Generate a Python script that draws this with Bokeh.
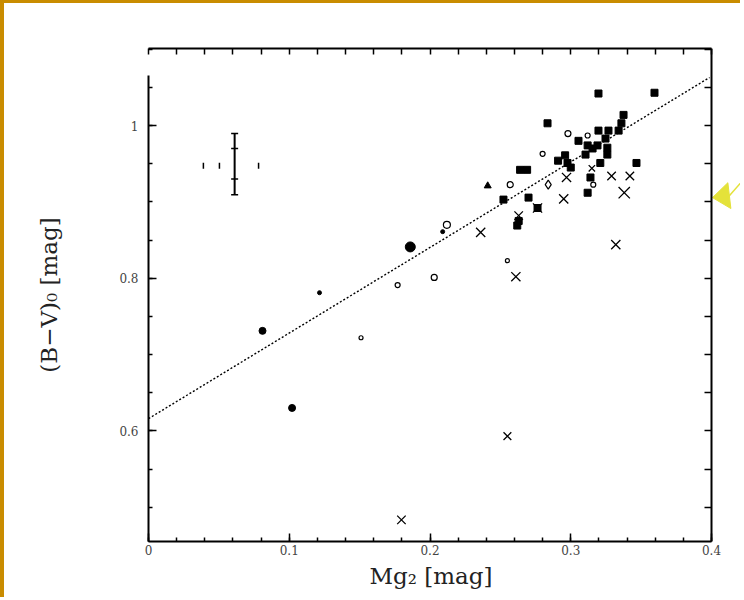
import math
from bokeh.plotting import figure
from bokeh.models import LinearAxis, FixedTicker, Range1d
from bokeh.embed import file_html
from bokeh.resources import INLINE

# ---------------- data ----------------
# filled squares
sq_x = [0.3197, 0.3595, 0.2835, 0.3375, 0.336, 0.3197, 0.3268, 0.334, 0.3247, 0.326,
        0.326, 0.321, 0.3467, 0.3055, 0.312, 0.3155, 0.3105, 0.319, 0.296, 0.2977,
        0.312, 0.2522, 0.270, 0.2764, 0.263, 0.262, 0.314, 0.264, 0.269, 0.291, 0.300]
sq_y = [1.042, 1.043, 1.003, 1.014, 1.003, 0.9934, 0.9934, 0.9934, 0.983, 0.971,
        0.962, 0.951, 0.951, 0.980, 0.974, 0.970, 0.962, 0.974, 0.961, 0.951,
        0.912, 0.903, 0.9056, 0.892, 0.875, 0.869, 0.932, 0.942, 0.942, 0.954, 0.945]
# filled round points (x, y, size)
fc_x = [0.186, 0.081, 0.1215, 0.102, 0.209]
fc_y = [0.841, 0.731, 0.781, 0.630, 0.861]
fc_s = [10, 7, 4, 7, 4]
# filled triangle
tri_x = [0.241]
tri_y = [0.921]
# open circles
oc_x = [0.177, 0.203, 0.212, 0.151, 0.257, 0.255, 0.280, 0.298, 0.312, 0.316]
oc_y = [0.791, 0.801, 0.870, 0.722, 0.9226, 0.823, 0.963, 0.9895, 0.987, 0.9226]
oc_s = [5, 6, 7, 4, 6, 4, 5, 6, 5, 5]
# open diamonds
od_x = [0.284]
od_y = [0.9226]
# crosses (x, y, size)
cx_x = [0.1797, 0.255, 0.261, 0.332, 0.236, 0.263, 0.2764, 0.295, 0.297, 0.315, 0.329, 0.342, 0.338]
cx_y = [0.4833, 0.593, 0.802, 0.844, 0.860, 0.882, 0.892, 0.904, 0.932, 0.944, 0.934, 0.934, 0.912]
cx_s = [12, 11, 13, 13, 13, 12, 13, 13, 13, 9, 12, 12, 16]
# fitted relation (end points)
fit_x = [0.0, 0.3986]
fit_y = [0.616, 1.063]
# typical error bar
eb_x = 0.0612
eb_lo, eb_hi = 0.9095, 0.9895
eb_in = [0.930, 0.970]
eb_mid = 0.9475
eh_x = [0.039, 0.0504, 0.0782]
# arrow annotation (start -> tip)
arr_start = (0.4234, 0.9305)
arr_end = (0.4007, 0.9056)

# ticks and titles
x_major = [0.0, 0.1, 0.2, 0.3, 0.4]
x_labels = ["0", "0.1", "0.2", "0.3", "0.4"]
x_minor = [round(0.02 * i, 2) for i in range(0, 21)]
y_major = [0.6, 0.8, 1.0]
y_labels = ["0.6", "0.8", "1"]
y_minor = [round(0.05 * i, 2) for i in range(10, 23)]
x_title = "Mg\u2082 [mag]"
y_title = "(B\u2212V)\u2080 [mag]"

SERIF = "DejaVu Serif"
YELLOW = "#e4e23a"

# box drawn by the axes (data units) and page geometry
BOX_X0, BOX_X1 = 0.0, 0.4
BOX_Y0, BOX_Y1 = 0.455, 1.101
W, H = 740, 597
BL, BT, BB = 144, 45, 59
BOX_W_PX = 563
sx = BOX_W_PX / (BOX_X1 - BOX_X0)   # pixels per x unit
sy = (H - BT - BB) / (BOX_Y1 - BOX_Y0)   # pixels per y unit
X0, X1 = BOX_X0, BOX_X0 + (W - BL) / sx

p = figure(width=W, height=H, x_range=Range1d(X0, X1), y_range=Range1d(BOX_Y0, BOX_Y1),
           output_backend="svg", toolbar_location=None,
           x_axis_location=None, y_axis_location=None,
           title=x_title, title_location="below",
           min_border_left=BL, min_border_right=0, min_border_top=BT, min_border_bottom=BB)
p.outline_line_color = None
p.background_fill_color = "white"
p.border_fill_color = "white"
p.xgrid.visible = False
p.ygrid.visible = False
p.styles = {"border-left": "4px solid #c98c00", "border-top": "3px solid #c98c00"}

# x-axis title (drawn as the plot title, placed below and centred under the box)
p.title.text_font = SERIF
p.title.text_font_size = "23px"
p.title.text_font_style = "normal"
p.title.text_color = "#222222"
p.title.align = "left"
p.title.offset = 221
p.title.standoff = 6


def style_axis(ax):
    ax.axis_line_color = "black"
    ax.axis_line_width = 2
    ax.major_tick_in = 8
    ax.major_tick_out = 0
    ax.minor_tick_in = 4
    ax.minor_tick_out = 0
    ax.major_tick_line_width = 1.5
    ax.minor_tick_line_width = 1.5
    ax.major_label_text_font = SERIF
    ax.major_label_text_font_size = "12px"
    ax.major_label_text_color = "#444444"
    ax.axis_label_text_font = SERIF
    ax.axis_label_text_font_style = "normal"
    ax.axis_label_text_font_size = "23px"
    ax.axis_label_text_color = "#222222"


xb = LinearAxis(ticker=FixedTicker(ticks=x_major, minor_ticks=x_minor),
                major_label_overrides=dict(zip(x_major, x_labels)),
                bounds=(BOX_X0, BOX_X1))
style_axis(xb)
xb.major_label_standoff = 3
p.add_layout(xb, "below")

yl = LinearAxis(ticker=FixedTicker(ticks=y_major, minor_ticks=y_minor),
                major_label_overrides=dict(zip(y_major, y_labels)),
                axis_label=y_title, bounds=(BOX_Y0, 1.066))
style_axis(yl)
yl.major_label_standoff = 10
yl.axis_label_standoff = 54
p.add_layout(yl, "left")

xt = LinearAxis(ticker=FixedTicker(ticks=[], minor_ticks=x_minor), bounds=(BOX_X0, BOX_X1))
style_axis(xt)
xt.minor_tick_in = 6
p.add_layout(xt, "above")

yr = LinearAxis(ticker=FixedTicker(ticks=[], minor_ticks=y_minor), fixed_location=BOX_X1,
                bounds=(BOX_Y0, BOX_Y1))
style_axis(yr)
yr.minor_tick_in = 7
p.add_layout(yr, "right")

# fitted line
p.line(fit_x, fit_y, line_color="black", line_width=1.4, line_dash="2 2")

# error bar
p.segment(x0=[eb_x], y0=[eb_lo], x1=[eb_x], y1=[eb_hi], line_color="black", line_width=2)
p.scatter(x=[eb_x] * 4, y=[eb_lo, eb_hi] + eb_in, marker="dash", size=7,
          line_color="black", line_width=1.5)
p.scatter(x=eh_x, y=[eb_mid] * len(eh_x), marker="dash", angle=math.pi / 2, size=6,
          line_color="black", line_width=1.5)

# points
p.scatter(sq_x, sq_y, marker="square", size=7, fill_color="black", line_color="black")
p.scatter(fc_x, fc_y, marker="circle", size=fc_s, fill_color="black", line_color="black")
p.scatter(tri_x, tri_y, marker="triangle", size=7, fill_color="black", line_color="black")
p.scatter(oc_x, oc_y, marker="circle", size=oc_s, fill_color="white", line_color="black",
          line_width=1.2)
p.scatter(od_x, od_y, marker="diamond", size=9, fill_color="white", line_color="black",
          line_width=1.2)
p.scatter(cx_x, cx_y, marker="x", size=cx_s, line_color="black", line_width=1.3)

# yellow arrow: shaft + triangular head (head nearly horizontal, pointing left)
head_ax, head_ay = 0.993, 0.117      # unit vector from tip towards head base (screen, y up)
head_len, head_half = 17.0, 13.0
bx = arr_end[0] + head_ax * head_len / sx
by = arr_end[1] + head_ay * head_len / sy
head_xs = [arr_end[0], bx - head_ay * head_half / sx, bx + head_ay * head_half / sx]
head_ys = [arr_end[1], by + head_ax * head_half / sy, by - head_ax * head_half / sy]

p.segment(x0=[arr_start[0]], y0=[arr_start[1]], x1=[bx], y1=[by],
          line_color=YELLOW, line_width=1.5)
p.patch(head_xs, head_ys, fill_color=YELLOW, line_color=YELLOW, line_width=1)

open("out.html", "w").write(file_html(p, INLINE))
